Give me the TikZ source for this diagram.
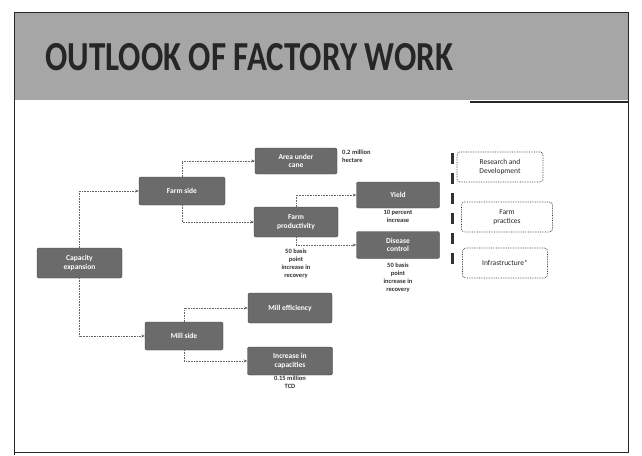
\documentclass[tikz,border=0pt]{standalone}
\usepackage{fontspec}
\setmainfont{Carlito}
\usepackage{graphicx}
\usetikzlibrary{arrows.meta}
\begin{document}
\begin{tikzpicture}[x=1pt,y=-1pt,>={Stealth[length=3.5pt,width=3pt]},
  box/.style={draw=black!75,fill=black!58,rounded corners=2pt,text=white,align=center,
    font=\fontsize{7.5}{8.5}\selectfont\bfseries,inner sep=1pt},
  note/.style={align=center,font=\fontsize{6.5}{8}\selectfont\bfseries,text=black!80,inner sep=0pt},
  lever/.style={draw=black!80,densely dotted,line width=0.7pt,rounded corners=3pt,align=center,fill=white,
    font=\fontsize{7.5}{9}\selectfont,text=black!85,inner sep=1pt},
  link/.style={->,draw=black!60,densely dotted,line width=0.6pt}]
\useasboundingbox (0,0) rectangle (642,455);
% slide frame and header
\fill[white] (0,0) rectangle (642,455);
\fill[black!35] (14,12) rectangle (628,100);
\draw[black!85,line width=1pt] (14,455) -- (14,12) -- (628,12) -- (628,452) -- (14,452);
\draw[black!85,line width=1.2pt] (470,102) -- (628,102);
\node[anchor=base west,inner sep=0pt,text=black!85] (title) at (45,70)
  {\scalebox{1}[1.25]{\fontsize{33}{36}\selectfont\bfseries OUTLOOK OF FACTORY WORK}};
% tree
\node[box,minimum width=85,minimum height=30] (cap) at (79.5,263) {Capacity\\expansion};
\node[box,minimum width=86,minimum height=28] (farm) at (182,191) {Farm side};
\node[box,minimum width=82,minimum height=26] (area) at (296,161) {Area under\\cane};
\node[note,anchor=north west,align=left] (areanote) at (342,150) {0.2 million\\hectare};
\node[box,minimum width=84,minimum height=30] (prod) at (296,222) {Farm\\productivity};
\node[note,anchor=north] (prodnote) at (296,249) {50 basis\\point\\increase in\\recovery};
\node[box,minimum width=83,minimum height=26] (yield) at (398,195) {Yield};
\node[note,anchor=north] (yieldnote) at (398,210) {10 percent\\increase};
\node[box,minimum width=83,minimum height=27] (dis) at (398,245) {Disease\\control};
\node[note,anchor=north] (disnote) at (398,263) {50 basis\\point\\increase in\\recovery};
\node[box,minimum width=78,minimum height=28] (mill) at (184,336) {Mill side};
\node[box,minimum width=84,minimum height=30] (eff) at (290,308) {Mill efficiency};
\node[box,minimum width=85,minimum height=28] (inc) at (290,361) {Increase in\\capacities};
\node[note,anchor=north] (incnote) at (290,376) {0.15 million\\TCD};
\draw[link] (cap.north) |- (farm.west);
\draw[link] (cap.south) |- (mill.west);
\draw[link] (farm.north) |- (area.west);
\draw[link] (farm.south) |- (prod.west);
\draw[link] (prod.north) |- (yield.west);
\draw[link] (prod.south) |- (dis.west);
\draw[link] (mill.north) |- (eff.west);
\draw[link] (mill.south) |- (inc.west);
% levers
\coordinate (bartop) at (452,153);
\coordinate (barbot) at (452,265);
\draw[black!80,line width=3pt,dash pattern=on 11pt off 9pt] (bartop) -- (barbot);
\node[lever,minimum width=86,minimum height=30] (rd) at (500,167) {Research and\\Development};
\node[lever,minimum width=91,minimum height=30] (fp) at (507,217) {Farm\\practices};
\node[lever,minimum width=85,minimum height=30] (inf) at (505,263) {Infrastructure*};
\end{tikzpicture}
\end{document}
